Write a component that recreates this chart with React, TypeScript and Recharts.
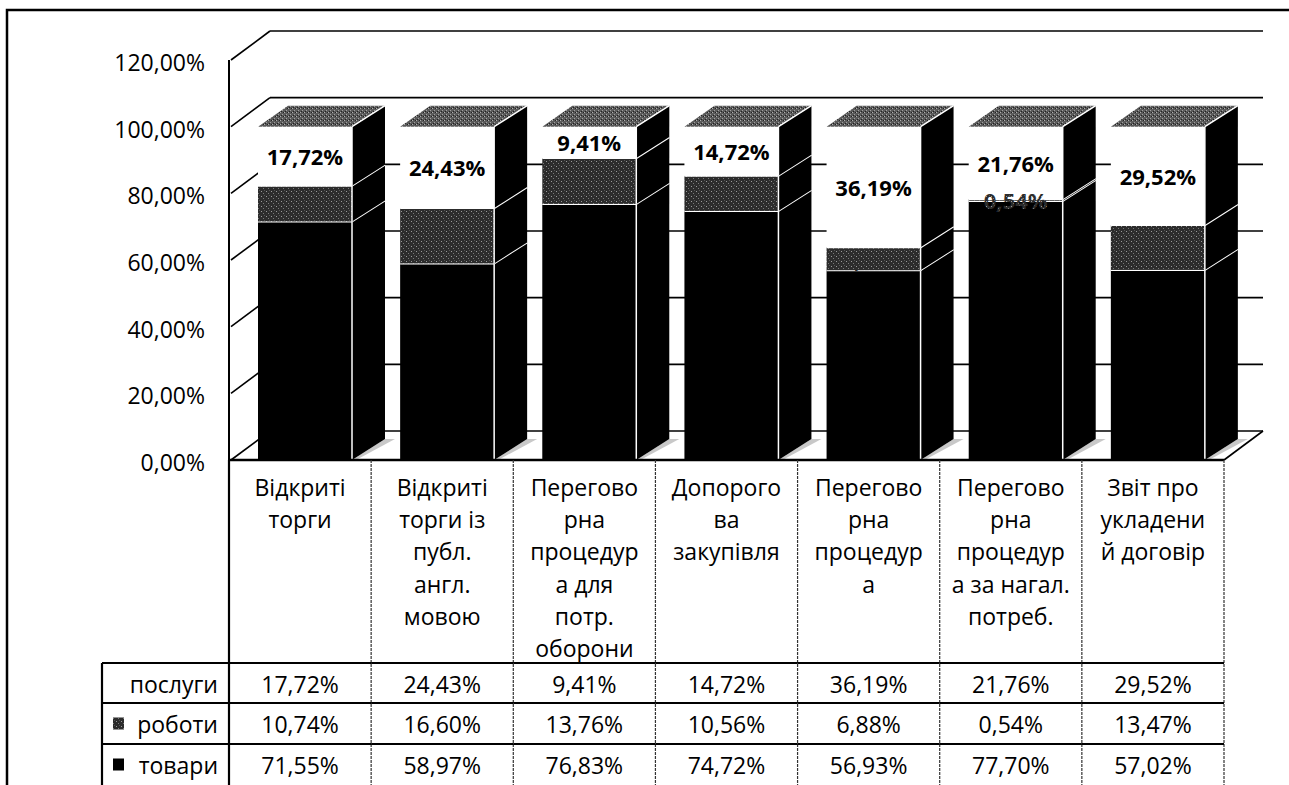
import React from "react";
import { BarChart, Bar, XAxis, YAxis, CartesianGrid, LabelList } from "recharts";

// ---------- data ----------
const categories = [
  "Відкриті торги",
  "Відкриті торги із публ. англ. мовою",
  "Переговорна процедура для потр. оборони",
  "Допорогова закупівля",
  "Переговорна процедура",
  "Переговорна процедура за нагал. потреб.",
  "Звіт про укладений договір",
];
const categoryTickLines = [
  ["Відкриті", "торги"],
  ["Відкриті", "торги із", "публ.", "англ.", "мовою"],
  ["Перегово", "рна", "процедур", "а для", "потр.", "оборони"],
  ["Допорого", "ва", "закупівля"],
  ["Перегово", "рна", "процедур", "а"],
  ["Перегово", "рна", "процедур", "а за нагал.", "потреб."],
  ["Звіт про", "укладени", "й договір"],
];
const tovary = [71.55, 58.97, 76.83, 74.72, 56.93, 77.7, 57.02];
const roboty = [10.74, 16.6, 13.76, 10.56, 6.88, 0.54, 13.47];
const poslugy = [17.72, 24.43, 9.41, 14.72, 36.19, 21.76, 29.52];
const yTicks = [0, 20, 40, 60, 80, 100, 120];
const seriesNames = ["послуги", "роботи", "товари"]; // table row order

// ---------- styling constants ----------
const FONT = "'Open Sans', 'Noto Sans', sans-serif";
const W = 1289;
const H = 785;
const PLOT_LEFT = 229;
const PLOT_RIGHT = 1224;
const PLOT_TOP = 60;
const PLOT_BOTTOM = 460;
const BAND = (PLOT_RIGHT - PLOT_LEFT) / categories.length;
const DX = 33; // bar depth
const DY = -21;
const WDX = 39; // wall depth
const WDY = -29;
const SHIFT = 5;

const fmt = (v: number) => v.toFixed(2).replace(".", ",") + "%";

const data = categories.map((name, i) => ({
  name,
  tovary: tovary[i],
  roboty: roboty[i],
  poslugy: poslugy[i],
}));

const seriesValues: Record<string, number[]> = {
  "послуги": poslugy,
  "роботи": roboty,
  "товари": tovary,
};
const seriesKeyFill: Record<string, string> = {
  "послуги": "none",
  "роботи": "url(#patRob)",
  "товари": "#000",
};

// ---------- 3D bar shape ----------
function Bar3D(props: any) {
  const { x, y, width, height, front, isTop, isBottom } = props;
  if (width == null || height == null) return null;
  const x0 = x + SHIFT;
  const x1 = x0 + width;
  const yb = y + height;
  return (
    <g>
      {isBottom && (
        <polygon
          points={`${x1},${yb} ${x1 + DX},${yb + DY} ${x1 + DX + 10},${yb + DY} ${x1 + 4},${yb}`}
          fill="#c8c8c8"
        />
      )}
      <rect x={x0} y={y} width={width} height={height} fill={front} />
      <polygon
        points={`${x1},${y} ${x1 + DX},${y + DY} ${x1 + DX},${yb + DY} ${x1},${yb}`}
        fill="#000"
      />
      <line x1={x1} y1={y} x2={x1} y2={yb} stroke="#fff" strokeWidth={1.5} />
      {isTop ? (
        <g>
          <polygon
            points={`${x0},${y} ${x0 + DX - 3},${y + DY} ${x1 + DX},${y + DY} ${x1},${y}`}
            fill="url(#patTop)"
          />
          <line x1={x1} y1={y} x2={x1 + DX} y2={y + DY} stroke="#fff" strokeWidth={1.5} />
        </g>
      ) : (
        <g>
          <line x1={x0} y1={y} x2={x1} y2={y} stroke="#fff" strokeWidth={2} />
          <line x1={x1} y1={y} x2={x1 + DX} y2={y + DY} stroke="#fff" strokeWidth={2} />
        </g>
      )}
    </g>
  );
}

function makeLabel(color: string) {
  return (p: any) => {
    const vb = p.viewBox || {};
    const x = p.x ?? vb.x;
    const y = p.y ?? vb.y;
    const w = p.width ?? vb.width;
    const h = p.height ?? vb.height;
    if (x == null) return null;
    return (
      <text
        x={x + w / 2 + SHIFT}
        y={y + h / 2}
        textAnchor="middle"
        dominantBaseline="central"
        fontFamily={FONT}
        fontWeight="bold"
        fontSize={22}
        fill={color}
      >
        {fmt(Number(p.value))}
      </text>
    );
  };
}

// ---------- grid on the back wall ----------
function GridLine(p: any) {
  const { x1, y1, x2 } = p;
  const floor = Math.abs(y1 - PLOT_BOTTOM) < 1;
  return (
    <g key={p.key ?? `g-${y1}`}>
      <line x1={x1 + 2} y1={y1} x2={x1 + 2 + WDX} y2={y1 + WDY} stroke="#000" strokeWidth={1.6} />
      <line x1={x1 + 2 + WDX} y1={y1 + WDY} x2={x2 + WDX} y2={y1 + WDY} stroke="#000" strokeWidth={1.6} />
      {floor && (
        <line x1={x2} y1={y1} x2={x2 + WDX} y2={y1 + WDY} stroke="#000" strokeWidth={1.6} />
      )}
    </g>
  );
}

// ---------- axis ticks ----------
function YTick(p: any) {
  const { x, y, payload } = p;
  return (
    <text
      x={x}
      y={y + 2}
      textAnchor="end"
      dominantBaseline="central"
      fontFamily={FONT}
      fontSize={23}
      fill="#000"
    >
      {fmt(Number(payload.value))}
    </text>
  );
}

const ROW_TOPS = [203, 243, 284]; // relative to axis y
const ROW_H = 41;

function CategoryTick(p: any) {
  const { x, y, payload } = p;
  const i = payload.index ?? p.index ?? 0;
  const half = BAND / 2;
  const left = x - half;
  const right = x + half;
  const bottom = H;
  const lines = categoryTickLines[i] || [];
  const headLeft = left - 127;
  return (
    <g>
      {lines.map((t: string, k: number) => (
        <text
          key={k}
          x={x}
          y={y + 27 + k * 32.2}
          textAnchor="middle"
          dominantBaseline="central"
          fontFamily={FONT}
          fontSize={23}
          fill="#000"
        >
          {t}
        </text>
      ))}
      <line x1={right} y1={y} x2={right} y2={bottom} stroke="#333" strokeWidth={1.2} strokeDasharray="3 1" />
      {ROW_TOPS.map((rt, r) => (
        <line key={"h" + r} x1={left} y1={y + rt} x2={right} y2={y + rt} stroke="#000" strokeWidth={2} />
      ))}
      {seriesNames.map((s, r) => (
        <text
          key={"v" + r}
          x={x}
          y={y + ROW_TOPS[r] + ROW_H / 2}
          textAnchor="middle"
          dominantBaseline="central"
          fontFamily={FONT}
          fontSize={23}
          fill="#000"
        >
          {fmt(seriesValues[s][i])}
        </text>
      ))}
      {i === 0 && (
        <g>
          <line x1={left} y1={y} x2={left} y2={bottom} stroke="#000" strokeWidth={2.2} />
          <line x1={headLeft} y1={y + ROW_TOPS[0]} x2={headLeft} y2={bottom} stroke="#000" strokeWidth={2.2} />
          {ROW_TOPS.map((rt, r) => (
            <line key={"hh" + r} x1={headLeft} y1={y + rt} x2={left} y2={y + rt} stroke="#000" strokeWidth={2} />
          ))}
          {seriesNames.map((s, r) => (
            <g key={"n" + r}>
              {seriesKeyFill[s] !== "none" && (
                <rect
                  x={headLeft + 11}
                  y={y + ROW_TOPS[r] + ROW_H / 2 - 6}
                  width={11}
                  height={12}
                  fill={seriesKeyFill[s]}
                />
              )}
              <text
                x={left - 11}
                y={y + ROW_TOPS[r] + ROW_H / 2}
                textAnchor="end"
                dominantBaseline="central"
                fontFamily={FONT}
                fontSize={23}
                fill="#000"
              >
                {s}
              </text>
            </g>
          ))}
        </g>
      )}
    </g>
  );
}

export default function App() {
  return (
    <div style={{ position: "relative", width: W, height: H, background: "#fff", overflow: "hidden" }}>
      <style>{"body{margin:0;overflow:hidden;background:#fff}"}</style>
      <svg width={0} height={0} style={{ position: "absolute" }}>
        <defs>
          <pattern id="patRob" width="5" height="5" patternUnits="userSpaceOnUse">
            <rect width="5" height="5" fill="#2c2c2c" />
            <rect x="1" y="1" width="1" height="1" fill="#9a9a9a" />
            <rect x="3" y="3" width="1" height="1" fill="#7a7a7a" />
            <rect x="4" y="0" width="1" height="1" fill="#555" />
          </pattern>
          <pattern id="patTop" width="4" height="4" patternUnits="userSpaceOnUse">
            <rect width="4" height="4" fill="#5a5a5a" />
            <rect x="0" y="0" width="1" height="1" fill="#b0b0b0" />
            <rect x="2" y="2" width="1" height="1" fill="#a0a0a0" />
            <rect x="3" y="0" width="1" height="1" fill="#222" />
            <rect x="1" y="3" width="1" height="1" fill="#222" />
          </pattern>
        </defs>
      </svg>
      <BarChart
        width={W}
        height={H}
        data={data}
        margin={{ top: PLOT_TOP, right: W - PLOT_RIGHT, bottom: 0, left: 0 }}
        barSize={94}
      >
        <CartesianGrid vertical={false} horizontal={GridLine} />
        <XAxis
          dataKey="name"
          height={H - PLOT_BOTTOM}
          interval={0}
          tickLine={false}
          tickSize={0}
          tickMargin={0}
          axisLine={{ stroke: "#000", strokeWidth: 2.5 }}
          tick={<CategoryTick />}
        />
        <YAxis
          domain={[0, 120]}
          ticks={yTicks}
          width={PLOT_LEFT}
          tickLine={false}
          tickSize={0}
          tickMargin={24}
          axisLine={{ stroke: "#000", strokeWidth: 2 }}
          tick={<YTick />}
        />
        <Bar
          dataKey="tovary"
          stackId="a"
          isAnimationActive={false}
          shape={(p: any) => <Bar3D {...p} front="#000" isBottom />}
        />
        <Bar
          dataKey="roboty"
          stackId="a"
          isAnimationActive={false}
          shape={(p: any) => <Bar3D {...p} front="url(#patRob)" />}
        >
          <LabelList dataKey="roboty" content={makeLabel("url(#patRob)")} />
        </Bar>
        <Bar
          dataKey="poslugy"
          stackId="a"
          isAnimationActive={false}
          shape={(p: any) => <Bar3D {...p} front="#fff" isTop />}
        >
          <LabelList dataKey="poslugy" content={makeLabel("#000")} />
        </Bar>
      </BarChart>
      <svg
        width={W}
        height={H}
        style={{ position: "absolute", left: 0, top: 0, pointerEvents: "none" }}
      >
        <path d={`M7,${H} L7,10 L${W},10`} fill="none" stroke="#000" strokeWidth={2.5} />
      </svg>
    </div>
  );
}
